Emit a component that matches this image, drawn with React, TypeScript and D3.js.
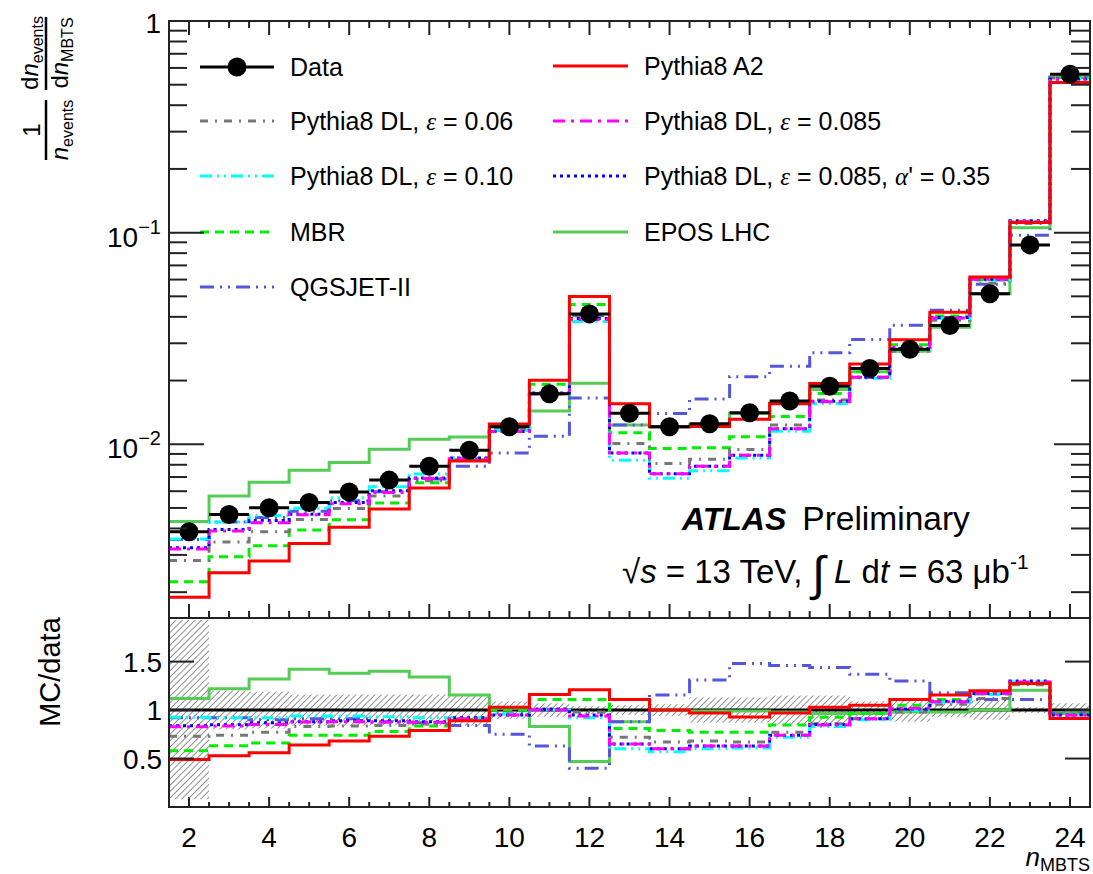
import React from 'react';
import * as d3 from 'd3';

// ---------- data ----------
const nBins = [2, 3, 4, 5, 6, 7, 8, 9, 10, 11, 12, 13, 14, 15, 16, 17, 18, 19, 20, 21, 22, 23, 24];
const dataVals = [0.00386, 0.00466, 0.00501, 0.00531, 0.00595, 0.00677, 0.00787, 0.00937, 0.0121, 0.0173, 0.0413, 0.0140, 0.0121, 0.0125, 0.0141, 0.0160, 0.0188, 0.0228, 0.0281, 0.0364, 0.0514, 0.0875, 0.560];
const pythiaA2 = [0.00189, 0.00247, 0.00281, 0.0034, 0.00405, 0.00494, 0.00622, 0.00834, 0.01246, 0.02007, 0.04997, 0.01554, 0.0121, 0.01213, 0.01311, 0.01552, 0.01936, 0.02394, 0.03119, 0.04204, 0.06168, 0.11156, 0.5118];
const dlEps006 = [0.00282, 0.00345, 0.00386, 0.00441, 0.00497, 0.00569, 0.00673, 0.00843, 0.01174, 0.0173, 0.04047, 0.01008, 0.00811, 0.0085, 0.00945, 0.01232, 0.01617, 0.02075, 0.02754, 0.03858, 0.05757, 0.1103, 0.5376];
const dlEps0085 = [0.0032, 0.00389, 0.00426, 0.00465, 0.00524, 0.00592, 0.00689, 0.00853, 0.0115, 0.0173, 0.03882, 0.0091, 0.00726, 0.00788, 0.00888, 0.01184, 0.01589, 0.02075, 0.02866, 0.03949, 0.06014, 0.1129, 0.532];
const dlEps010 = [0.00357, 0.00429, 0.00461, 0.00499, 0.00559, 0.0063, 0.00724, 0.00862, 0.01162, 0.0173, 0.038, 0.0084, 0.0069, 0.0075, 0.0086, 0.01152, 0.0156, 0.02052, 0.0281, 0.03931, 0.05962, 0.1129, 0.532];
const dlEps0085Alpha = [0.00324, 0.00396, 0.00436, 0.00467, 0.0053, 0.00603, 0.00693, 0.00862, 0.0115, 0.01747, 0.03924, 0.0091, 0.00726, 0.00788, 0.00888, 0.01184, 0.01598, 0.02075, 0.02838, 0.03968, 0.06014, 0.1138, 0.532];
const mbr = [0.00224, 0.00294, 0.00331, 0.00393, 0.0044, 0.00528, 0.00657, 0.00843, 0.0121, 0.0192, 0.0458, 0.01134, 0.00956, 0.00963, 0.01086, 0.01352, 0.01739, 0.02202, 0.02951, 0.0404, 0.05988, 0.112, 0.541];
const eposLHC = [0.00432, 0.00569, 0.00661, 0.00754, 0.00821, 0.00948, 0.01055, 0.01082, 0.01234, 0.01436, 0.01941, 0.01232, 0.0121, 0.01238, 0.01396, 0.01568, 0.01816, 0.02202, 0.02754, 0.03567, 0.0514, 0.1055, 0.541];
const qgsjet = [0.00355, 0.00429, 0.00451, 0.00483, 0.00541, 0.00596, 0.00685, 0.00787, 0.00908, 0.0109, 0.01652, 0.01232, 0.01398, 0.01638, 0.02087, 0.02336, 0.02707, 0.03124, 0.03653, 0.04295, 0.05705, 0.09713, 0.5432];
const bandLo = [0.08, 0.80, 0.81, 0.84, 0.84, 0.84, 0.84, 0.84, 0.91, 0.93, 0.96, 0.95, 0.94, 0.87, 0.87, 0.85, 0.85, 0.91, 0.88, 0.93, 0.90, 0.97, 0.93];
const bandHi = [1.93, 1.20, 1.19, 1.16, 1.16, 1.16, 1.16, 1.16, 1.09, 1.07, 1.04, 1.05, 1.06, 1.13, 1.13, 1.15, 1.15, 1.09, 1.12, 1.07, 1.10, 1.03, 1.07];
const xTickLabels = [2, 4, 6, 8, 10, 12, 14, 16, 18, 20, 22, 24];
const ratioTicks = [0.5, 1, 1.5];

// ---------- layout ----------
const W = 1093, H = 874;
const L = 169, R = 1090, T = 21, MID = 618, B = 807;
const FONT = "'Liberation Sans', Arial, Helvetica, sans-serif";
const SERIF = "'Liberation Serif', 'DejaVu Serif', serif";

const x = d3.scaleLinear().domain([1.5, 24.5]).range([L, R]);
const yTop = d3.scaleLog().domain([0.00151, 1]).range([MID, T]);
const yRat = d3.scaleLinear().domain([0, 1.95]).range([B, MID]);

type Series = { key: string; vals: number[]; color: string; dash: string; width: number };
const series: Series[] = [
  { key: 'epos', vals: eposLHC, color: '#55cc55', dash: '', width: 3 },
  { key: 'qgs', vals: qgsjet, color: '#5555dd', dash: '14 6 2 6 2 6', width: 3 },
  { key: 'mbr', vals: mbr, color: '#00ee00', dash: '9 6', width: 3 },
  { key: 'g06', vals: dlEps006, color: '#777777', dash: '8 7 2 7', width: 3 },
  { key: 'c10', vals: dlEps010, color: '#00ffff', dash: '12 5 2 5 2 5', width: 3 },
  { key: 'b085a', vals: dlEps0085Alpha, color: '#0000ff', dash: '3 4', width: 3 },
  { key: 'm085', vals: dlEps0085, color: '#ff00ff', dash: '12 6 3 6', width: 3 },
  { key: 'a2', vals: pythiaA2, color: '#ff0000', dash: '', width: 3 },
];
const styleOf = (k: string) => series.find(s => s.key === k)!;

function stepPts(vals: number[]): [number, number][] {
  const pts: [number, number][] = [];
  vals.forEach((v, i) => { pts.push([nBins[i] - 0.5, v], [nBins[i] + 0.5, v]); });
  return pts;
}
const lineTop = d3.line<[number, number]>().x(d => x(d[0])).y(d => yTop(d[1]));
const lineRat = d3.line<[number, number]>().x(d => x(d[0])).y(d => yRat(d[1]));

const eps = <tspan fontFamily={SERIF} fontStyle="italic">ε</tspan>;
const legendLeft = [
  { key: 'data', label: <>Data</> },
  { key: 'g06', label: <>Pythia8 DL, {eps} = 0.06</> },
  { key: 'c10', label: <>Pythia8 DL, {eps} = 0.10</> },
  { key: 'mbr', label: <>MBR</> },
  { key: 'qgs', label: <>QGSJET-II</> },
];
const legendRight = [
  { key: 'a2', label: <>Pythia8 A2</> },
  { key: 'm085', label: <>Pythia8 DL, {eps} = 0.085</> },
  { key: 'b085a', label: <>Pythia8 DL, {eps} = 0.085, <tspan fontFamily={SERIF} fontStyle="italic">α</tspan>' = 0.35</> },
  { key: 'epos', label: <>EPOS LHC</> },
];
const leftRows = [67, 121, 176, 232, 287];
const rightRows = [66, 121, 176, 232];

export default function App() {
  const xMinor = d3.range(2, 24.01, 0.5);
  const decadeMajor = [1, 0.1, 0.01];
  const logMinor: number[] = [];
  [0.001, 0.01, 0.1].forEach(d => { for (let k = 2; k <= 9; k++) { const v = k * d; if (v >= 0.00151) logMinor.push(v); } });

  const legendSample = (key: string, x0: number, x1: number, y: number) => {
    if (key === 'data') {
      return (
        <g>
          <line x1={x0} x2={x1} y1={y} y2={y} stroke="#000" strokeWidth={3} />
          <circle cx={(x0 + x1) / 2} cy={y} r={9.5} fill="#000" />
        </g>
      );
    }
    const s = styleOf(key);
    return <line x1={x0} x2={x1} y1={y} y2={y} stroke={s.color} strokeWidth={s.width} strokeDasharray={s.dash} />;
  };

  return (
    <svg width={W} height={H} style={{ position: 'absolute', left: 0, top: 0, background: '#fff' }} fontFamily={FONT}>
      <defs>
        <pattern id="hatch" patternUnits="userSpaceOnUse" width="4.5" height="4.5" patternTransform="rotate(45)">
          <line x1="0" y1="0" x2="0" y2="4.5" stroke="#666" strokeWidth="1.4" />
        </pattern>
        <clipPath id="clipTop"><rect x={L} y={T} width={R - L} height={MID - T} /></clipPath>
        <clipPath id="clipRat"><rect x={L} y={MID} width={R - L} height={B - MID} /></clipPath>
      </defs>
      <rect x={0} y={0} width={W} height={H} fill="#fff" />

      {/* ---------- top panel ---------- */}
      <g clipPath="url(#clipTop)">
        {series.map(s => (
          <path key={s.key} d={lineTop(stepPts(s.vals)) || ''} fill="none" stroke={s.color}
            strokeWidth={s.width} strokeDasharray={s.dash} />
        ))}
        {dataVals.map((v, i) => (
          <g key={i}>
            <line x1={x(nBins[i] - 0.5)} x2={x(nBins[i] + 0.5)} y1={yTop(v)} y2={yTop(v)} stroke="#000" strokeWidth={3} />
            <circle cx={x(nBins[i])} cy={yTop(v)} r={9.5} fill="#000" />
          </g>
        ))}
      </g>

      {/* legend */}
      {legendLeft.map((e, i) => (
        <g key={e.key}>
          {legendSample(e.key, 200, 274, leftRows[i])}
          <text x={290} y={leftRows[i] + 9} fontSize={25} fill="#000">{e.label}</text>
        </g>
      ))}
      {legendRight.map((e, i) => (
        <g key={e.key}>
          {legendSample(e.key, 553, 628, rightRows[i])}
          <text x={644} y={rightRows[i] + 9} fontSize={25} fill="#000">{e.label}</text>
        </g>
      ))}

      {/* ATLAS label */}
      <text x={682} y={530} fontSize={32} fill="#000">
        <tspan fontWeight="bold" fontStyle="italic">ATLAS</tspan>
        <tspan dx={16} fontSize={33.5}>Preliminary</tspan>
      </text>
      <text x={622} y={583} fontSize={33} fill="#000">
        <tspan>√</tspan><tspan fontStyle="italic">s</tspan>
        <tspan> = 13 TeV, </tspan>
        <tspan fontSize={48} dy={7}>∫</tspan>
        <tspan dy={-7}> </tspan><tspan fontStyle="italic">L</tspan>
        <tspan> d</tspan><tspan fontStyle="italic">t</tspan>
        <tspan> = 63 μb</tspan>
        <tspan fontSize={21} dy={-14}>-1</tspan>
      </text>

      {/* top frame + ticks */}
      <rect x={L} y={T} width={R - L} height={MID - T} fill="none" stroke="#222" strokeWidth={2} />
      {xMinor.map(v => {
        const major = Math.abs(v % 2) < 1e-9;
        const len = major ? 14 : 7;
        return (
          <g key={'xt' + v}>
            <line x1={x(v)} x2={x(v)} y1={T} y2={T + len} stroke="#222" strokeWidth={2} />
            <line x1={x(v)} x2={x(v)} y1={MID} y2={MID - len} stroke="#222" strokeWidth={2} />
            <line x1={x(v)} x2={x(v)} y1={B} y2={B - (major ? 10 : 5)} stroke="#222" strokeWidth={2} />
          </g>
        );
      })}
      {decadeMajor.map(v => (
        <g key={'ym' + v}>
          <line x1={L} x2={L + 35} y1={yTop(v)} y2={yTop(v)} stroke="#222" strokeWidth={2} />
          <line x1={R} x2={R - 36} y1={yTop(v)} y2={yTop(v)} stroke="#222" strokeWidth={2} />
        </g>
      ))}
      {logMinor.map(v => (
        <g key={'yn' + v}>
          <line x1={L} x2={L + 18} y1={yTop(v)} y2={yTop(v)} stroke="#222" strokeWidth={2} />
          <line x1={R} x2={R - 19} y1={yTop(v)} y2={yTop(v)} stroke="#222" strokeWidth={2} />
        </g>
      ))}
      <text x={161} y={yTop(1) + 12} fontSize={28} textAnchor="end">1</text>
      <text x={161} y={yTop(0.1) + 14} fontSize={28} textAnchor="end">10<tspan fontSize={20} dy={-13}>−1</tspan></text>
      <text x={161} y={yTop(0.01) + 14} fontSize={28} textAnchor="end">10<tspan fontSize={20} dy={-13}>−2</tspan></text>

      {/* top y title */}
      <g transform="translate(46,90) rotate(-90)" fontSize={24}>
        <line x1={-70} x2={-10} y1={0} y2={0} stroke="#000" strokeWidth={2.5} />
        <text x={-40} y={-6} textAnchor="middle">1</text>
        <text x={-40} y={22} textAnchor="middle">
          <tspan fontStyle="italic">n</tspan><tspan fontSize={16} dy={5}>events</tspan>
        </text>
        <line x1={0} x2={73} y1={0} y2={0} stroke="#000" strokeWidth={2.5} />
        <text x={37} y={-8} textAnchor="middle">
          d<tspan fontStyle="italic">n</tspan><tspan fontSize={16} dy={5}>events</tspan>
        </text>
        <text x={37} y={22} textAnchor="middle">
          d<tspan fontStyle="italic">n</tspan><tspan fontSize={16} dy={5}>MBTS</tspan>
        </text>
      </g>

      {/* ---------- ratio panel ---------- */}
      <g clipPath="url(#clipRat)">
        {bandLo.map((lo, i) => (
          <rect key={'b' + i} x={x(nBins[i] - 0.5)} width={x(nBins[i] + 0.5) - x(nBins[i] - 0.5)}
            y={yRat(bandHi[i])} height={yRat(lo) - yRat(bandHi[i])} fill="url(#hatch)" />
        ))}
        <line x1={L} x2={R} y1={yRat(1)} y2={yRat(1)} stroke="#000" strokeWidth={3} />
        {series.map(s => (
          <path key={'r' + s.key} d={lineRat(stepPts(s.vals.map((v, i) => v / dataVals[i]))) || ''} fill="none"
            stroke={s.color} strokeWidth={s.width} strokeDasharray={s.dash} />
        ))}
      </g>
      <rect x={L} y={MID} width={R - L} height={B - MID} fill="none" stroke="#222" strokeWidth={2} />
      {ratioTicks.map(v => (
        <g key={'rt' + v}>
          <line x1={L} x2={L + 25} y1={yRat(v)} y2={yRat(v)} stroke="#222" strokeWidth={2} />
          <line x1={R} x2={R - 25} y1={yRat(v)} y2={yRat(v)} stroke="#222" strokeWidth={2} />
          <text x={162} y={yRat(v) + 10} fontSize={28} textAnchor="end">{String(v)}</text>
        </g>
      ))}
      <text transform="translate(60,672) rotate(-90)" fontSize={29} textAnchor="middle">MC/data</text>

      {/* x labels */}
      {xTickLabels.map(v => (
        <text key={'xl' + v} x={x(v)} y={847} fontSize={28} textAnchor="middle">{v}</text>
      ))}
      <text x={1090} y={866} fontSize={26} textAnchor="end">
        <tspan fontStyle="italic">n</tspan><tspan fontSize={18} dy={5}>MBTS</tspan>
      </text>
    </svg>
  );
}
